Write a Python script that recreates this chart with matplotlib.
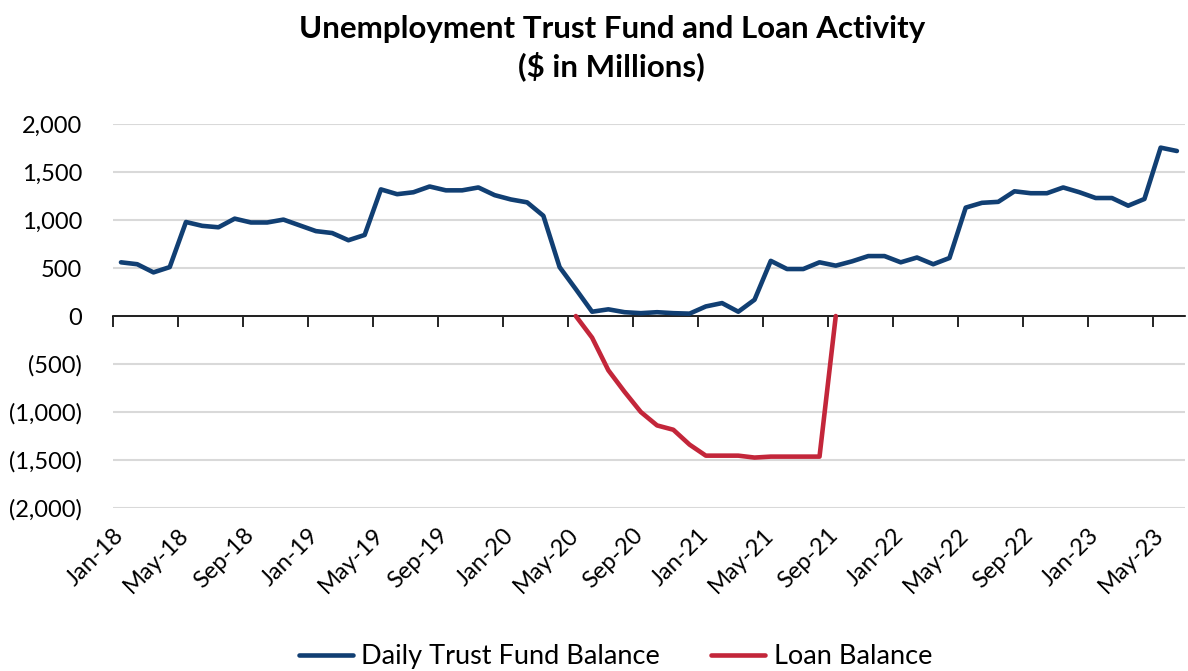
import numpy as np
import matplotlib
matplotlib.use("Agg")
import matplotlib.pyplot as plt
from matplotlib.ticker import FuncFormatter

plt.rcParams["font.family"] = ["Lato", "DejaVu Sans"]

# 月次データ Jan-18 .. Jun-23
months = ["Jan", "Feb", "Mar", "Apr", "May", "Jun",
          "Jul", "Aug", "Sep", "Oct", "Nov", "Dec"]
labels = [f"{m}-{y}" for y in range(18, 24) for m in months][:66]

trust_fund = [
    560, 540, 455, 510, 980, 940, 925, 1015, 975, 975, 1005, 945,
    885, 865, 790, 845, 1320, 1270, 1290, 1350, 1310, 1310, 1340, 1260,
    1215, 1185, 1045, 510, 280, 45, 70, 40, 30, 40, 30, 25,
    100, 135, 45, 170, 575, 490, 490, 560, 525, 570, 625, 625,
    560, 610, 540, 605, 1130, 1180, 1190, 1300, 1280, 1280, 1340, 1290,
    1230, 1230, 1150, 1220, 1755, 1720,
]
# May-20 .. Sep-21
loan_start = "May-20"
loan = [0, -225, -565, -790, -1000, -1140, -1185, -1340,
        -1455, -1455, -1455, -1475, -1465, -1465, -1465, -1465, 0]

blue = "#113f73"
red = "#c3263a"

x = np.arange(len(labels))
loan_full = np.full(len(labels), np.nan)
i0 = labels.index(loan_start)
loan_full[i0:i0 + len(loan)] = loan

fig = plt.figure(figsize=(11.88, 6.71), dpi=100)
ax = fig.add_axes([0.095, 0.243, 0.9025, 0.572])

ax.plot(x, trust_fund, color=blue, lw=3.3, solid_capstyle="round",
        label="Daily Trust Fund Balance", zorder=3)
ax.plot(x, loan_full, color=red, lw=3.3, solid_capstyle="round",
        label="Loan Balance", zorder=3)

ax.set_ylim(-2000, 2000)
ax.set_xlim(-0.5, len(labels) - 0.5)
ax.set_yticks(np.arange(-2000, 2001, 500))
ax.yaxis.set_major_formatter(
    FuncFormatter(lambda v, p: f"({abs(v):,.0f})" if v < 0 else f"{v:,.0f}"))
ax.grid(axis="y", color="#d9d9d9", lw=1.5, zorder=0)
ax.tick_params(axis="y", length=0, labelsize=17, pad=22)
for t in ax.get_yticklabels():
    t.set_horizontalalignment("right")

for s in ["left", "right", "top"]:
    ax.spines[s].set_visible(False)
ax.spines["bottom"].set_position(("data", 0))
ax.spines["bottom"].set_color("black")
ax.spines["bottom"].set_linewidth(1.2)
ax.spines["bottom"].set_zorder(2)

tick_pos = np.arange(0, len(labels), 4) - 0.5
ax.set_xticks(tick_pos)
ax.tick_params(axis="x", length=8, width=1.2, labelbottom=False,
               direction="out")

# 軸ラベルはグラフの下側へ
sec = ax.secondary_xaxis(0.0)
sec.set_xticks(tick_pos, labels[::4])
sec.tick_params(length=0, labelsize=17, pad=12)
sec.spines["bottom"].set_visible(False)
for t in sec.get_xticklabels():
    t.set_rotation(45)
    t.set_horizontalalignment("right")
    t.set_rotation_mode("anchor")

fig.suptitle("Unemployment Trust Fund and Loan Activity\n($ in Millions)",
             fontsize=22.5, fontweight="bold", y=0.978, x=0.515,
             linespacing=1.35)

fig.legend(loc="lower center", bbox_to_anchor=(0.518, -0.034), ncol=2,
           frameon=False, fontsize=19.5, handlelength=2.0,
           handletextpad=0.3, columnspacing=1.9)

fig.savefig("out.png", dpi=100)
